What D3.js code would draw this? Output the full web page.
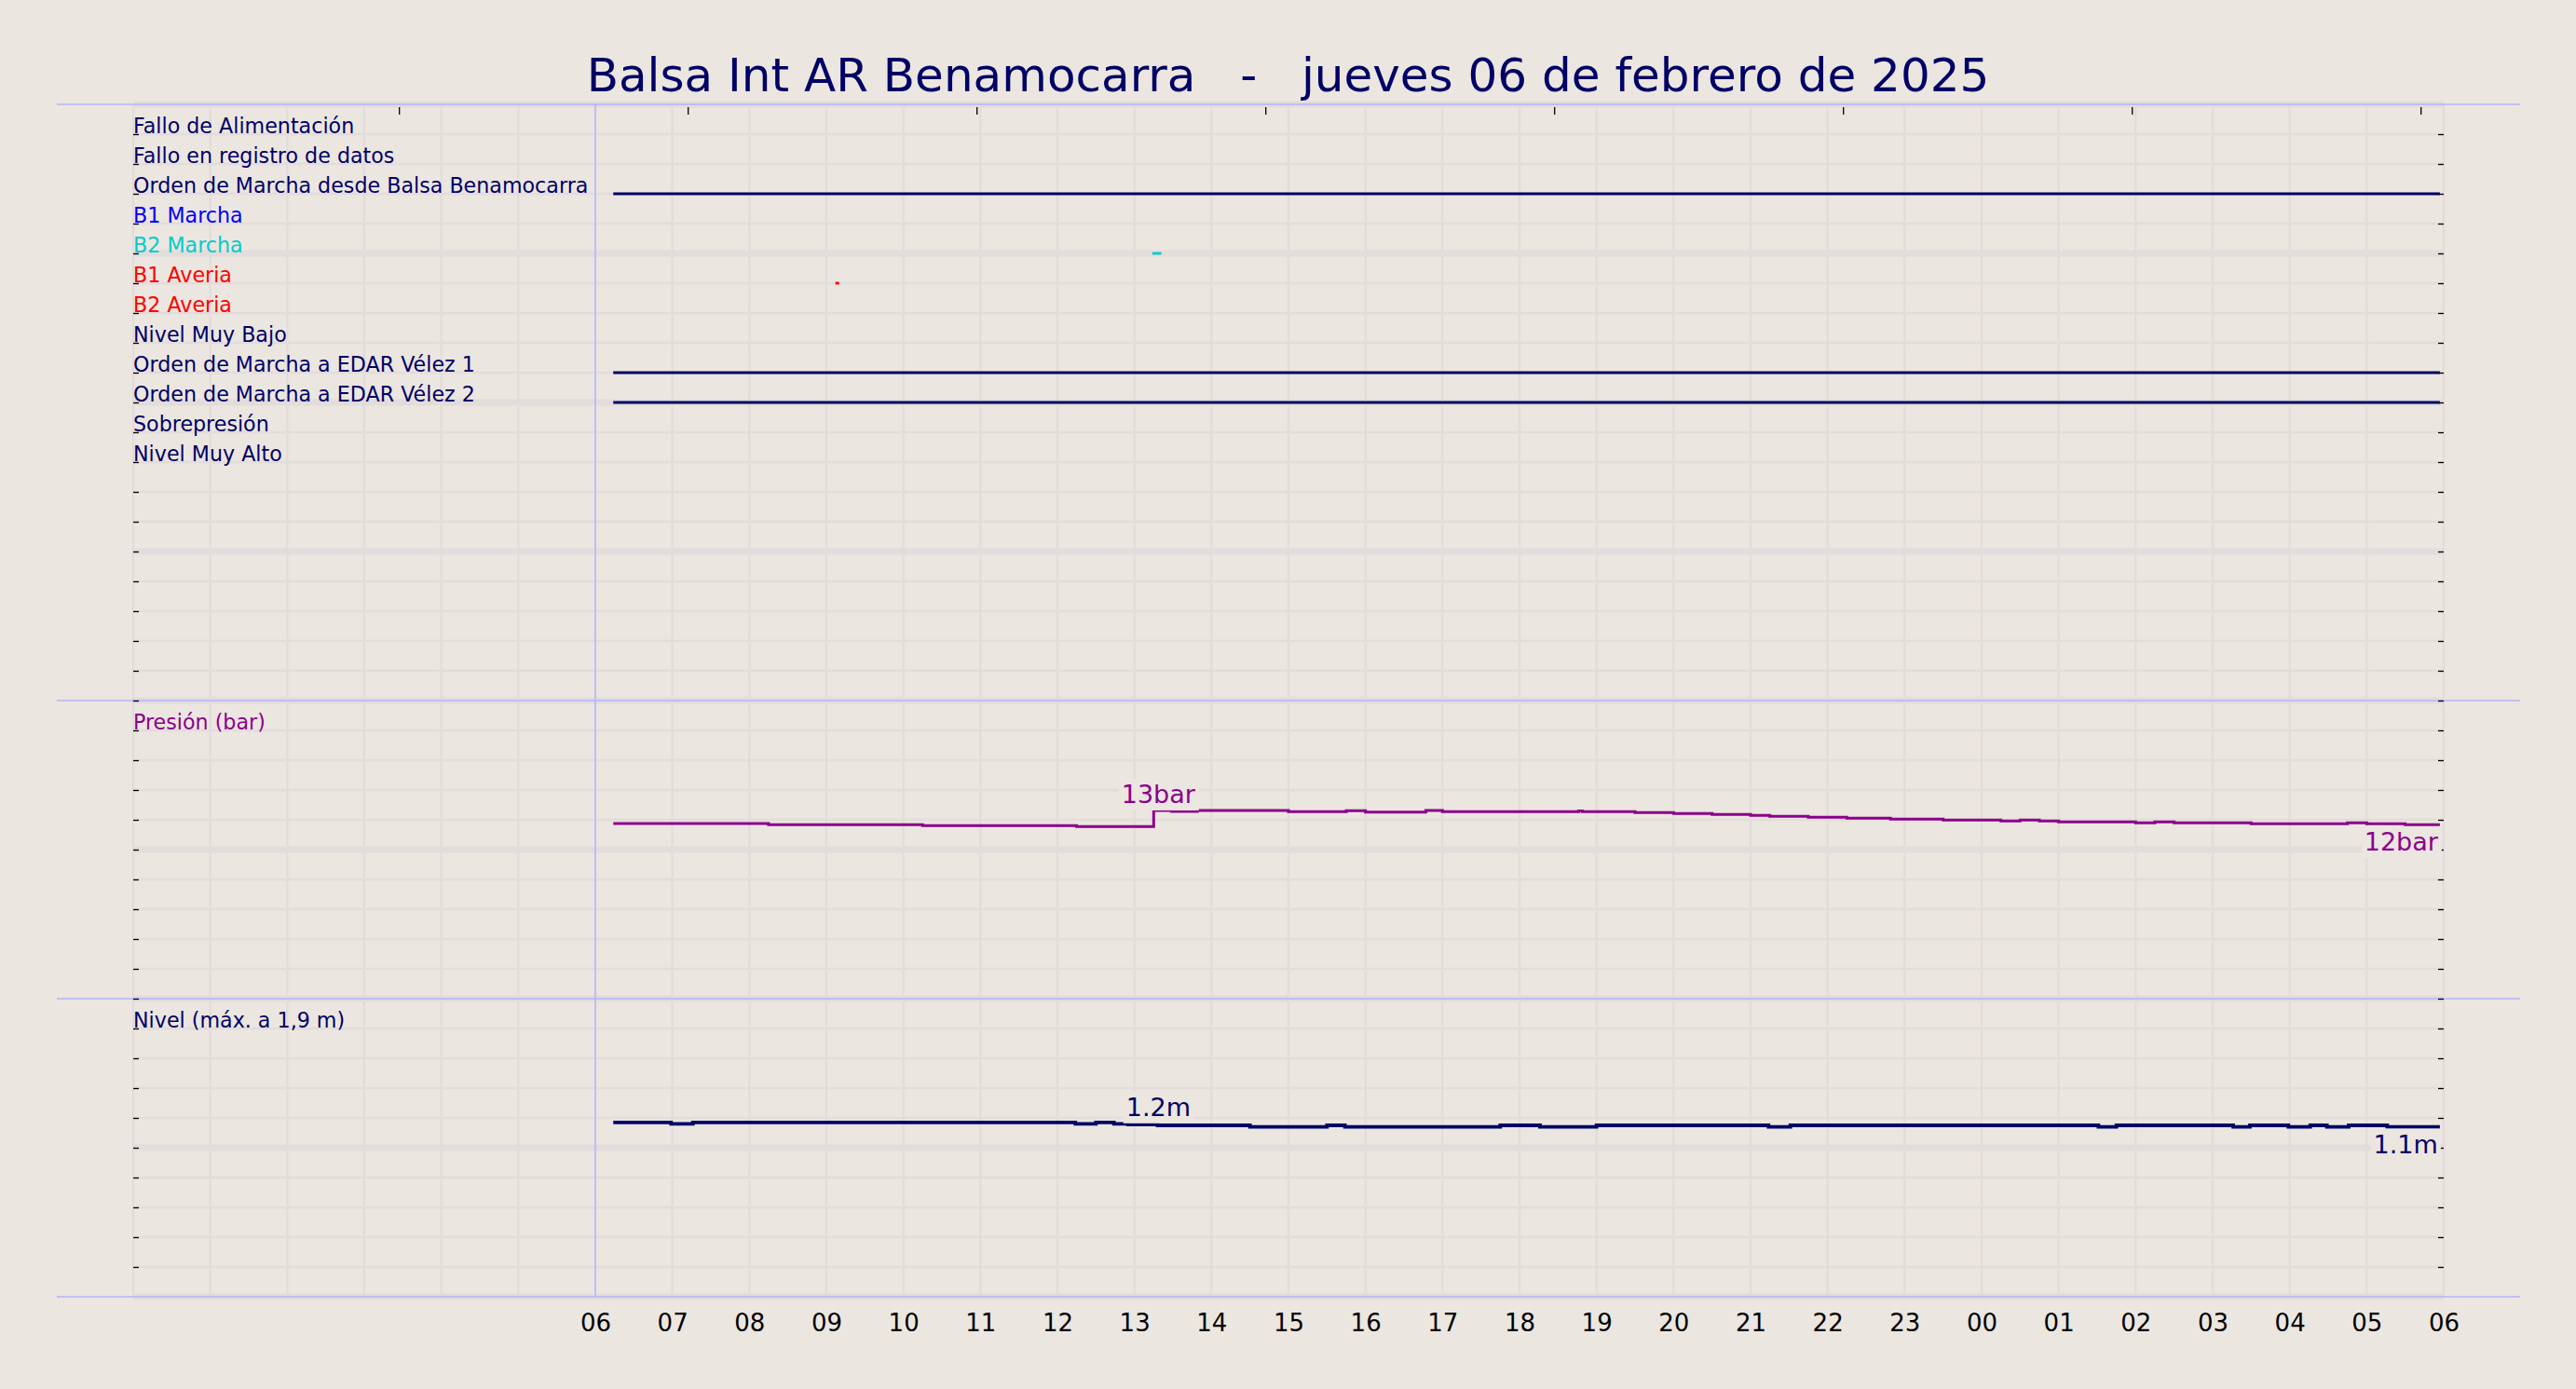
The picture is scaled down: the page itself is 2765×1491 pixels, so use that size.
<!DOCTYPE html>
<html>
<head>
<meta charset="utf-8">
<script src="https://cdn.jsdelivr.net/npm/d3@7"></script>
<style>
  body { margin: 0; background: #ebe6e0; }
  svg text { font-family: "DejaVu Sans", sans-serif; }
</style>
</head>
<body>
<div id="chart"></div>
<script>

// ---- data ----
const titleText = "Balsa Int AR Benamocarra   -   jueves 06 de febrero de 2025";

const signalNames = [
    "Fallo de Alimentación",
    "Fallo en registro de datos",
    "Orden de Marcha desde Balsa Benamocarra",
    "B1 Marcha",
    "B2 Marcha",
    "B1 Averia",
    "B2 Averia",
    "Nivel Muy Bajo",
    "Orden de Marcha a EDAR Vélez 1",
    "Orden de Marcha a EDAR Vélez 2",
    "Sobrepresión",
    "Nivel Muy Alto"
];

// periods where each signal is active (start, end)
const signalPeriods = [
    [],
    [],
    [["02-05 06:14", "02-06 05:57"]],
    [],
    [["02-05 13:14", "02-05 13:21"]],
    [["02-05 09:07", "02-05 09:10"]],
    [],
    [],
    [["02-05 06:14", "02-06 05:57"]],
    [["02-05 06:14", "02-06 05:57"]],
    [],
    []
];

const pressureLabel = "Presión (bar)";
const pressureTimes = [
    "02-05 06:14", "02-05 08:15", "02-05 10:15", "02-05 12:15", "02-05 13:15",
    "02-05 13:29", "02-05 13:49", "02-05 15:00", "02-05 15:45", "02-05 16:00",
    "02-05 16:47", "02-05 17:00", "02-05 18:46", "02-05 18:49", "02-05 19:30",
    "02-05 20:00", "02-05 20:30", "02-05 21:00", "02-05 21:15", "02-05 21:45",
    "02-05 22:15", "02-05 22:49", "02-05 23:30", "02-06 00:15", "02-06 00:30",
    "02-06 00:45", "02-06 01:00", "02-06 02:00", "02-06 02:15", "02-06 02:30",
    "02-06 03:30", "02-06 04:45", "02-06 05:00", "02-06 05:30", "02-06 05:57"
];
const pressureValues = [
    11.75, 11.67, 11.61, 11.54, 12.63,
    12.56, 12.62, 12.54, 12.61, 12.52,
    12.62, 12.54, 12.60, 12.54, 12.48,
    12.42, 12.36, 12.29, 12.23, 12.17,
    12.11, 12.04, 11.98, 11.92, 11.98,
    11.92, 11.86, 11.79, 11.86, 11.79,
    11.73, 11.79, 11.73, 11.67, 11.67
];

const levelLabel = "Nivel (máx. a 1,9 m)";
const levelTimes = [
    "02-05 06:14", "02-05 06:59", "02-05 07:16", "02-05 12:14", "02-05 12:30",
    "02-05 12:44", "02-05 12:55", "02-05 13:18", "02-05 14:30", "02-05 15:30",
    "02-05 15:44", "02-05 17:45", "02-05 18:16", "02-05 19:00", "02-05 21:14",
    "02-05 21:31", "02-06 01:31", "02-06 01:45", "02-06 03:16", "02-06 03:29",
    "02-06 03:59", "02-06 04:16", "02-06 04:29", "02-06 04:46", "02-06 05:16",
    "02-06 05:57"
];
const levelValues = [
    1.17, 1.16, 1.17, 1.16, 1.17,
    1.16, 1.155, 1.15, 1.14, 1.15,
    1.14, 1.15, 1.14, 1.15, 1.14,
    1.15, 1.14, 1.15, 1.14, 1.15,
    1.14, 1.15, 1.14, 1.15, 1.14,
    1.14
];

const timeStart = "02-05 00:00";
const timeFirstLabel = "02-05 06:00";
const timeEnd = "02-06 06:00";
const topTickValues = [0, 1, 2, 3, 4, 5, 6, 7];

// ---- styles ----
const bg = "#ebe6e0";
const navy = "#000066";
const magenta = "#8b008b";
const lavender = "#b3b3ff";
const gridColor = "#e2dcdb";
const signalColors = {
    "B1 Marcha": "#0000ff",
    "B2 Marcha": "#00cccc",
    "B1 Averia": "#ff0000",
    "B2 Averia": "#ff0000"
};

const W = 2765, H = 1491;
const margin = {top: 112, right: 142, bottom: 99, left: 143};
const width = W - margin.left - margin.right;
const height = H - margin.top - margin.bottom;

const parseTime = d3.timeParse("%m-%d %H:%M");

const svg = d3.select("#chart").append("svg")
    .attr("width", W)
    .attr("height", H);

svg.append("rect")
    .attr("width", W)
    .attr("height", H)
    .attr("fill", bg);

const g = svg.append("g")
    .attr("transform", "translate(" + margin.left + "," + margin.top + ")");

// ---- scales ----
const x = d3.scaleTime()
    .domain([parseTime(timeStart), parseTime(timeEnd)])
    .range([0, width]);

const nRows = 40;
const yRow = d3.scaleLinear()
    .domain([0, nRows])
    .range([0, height]);

const yP = d3.scaleLinear()
    .domain([0, 20])
    .range([yRow(30), yRow(20)]);

const yL = d3.scaleLinear()
    .domain([0, 2])
    .range([yRow(40), yRow(30)]);

const xTop = d3.scaleLinear()
    .domain([-0.92, 7.08])
    .range([0, width]);

// ---- grid ----
const hourTicks = x.ticks(d3.timeHour.every(1));

g.selectAll(".vgrid")
    .data(hourTicks)
    .enter().append("line")
    .attr("class", "vgrid")
    .attr("x1", d => x(d))
    .attr("x2", d => x(d))
    .attr("y1", 0)
    .attr("y2", height)
    .attr("stroke", gridColor)
    .attr("stroke-width", 2.3);

g.selectAll(".hgrid")
    .data(d3.range(0, nRows + 1))
    .enter().append("line")
    .attr("class", "hgrid")
    .attr("x1", 0)
    .attr("x2", width)
    .attr("y1", d => yRow(d))
    .attr("y2", d => yRow(d))
    .attr("stroke", gridColor)
    .attr("stroke-width", d => d % 5 === 0 ? 7 : 2.5);

// start of the day line
g.append("line")
    .attr("x1", x(parseTime(timeFirstLabel)))
    .attr("x2", x(parseTime(timeFirstLabel)))
    .attr("y1", 0)
    .attr("y2", height)
    .attr("stroke", lavender)
    .attr("stroke-width", 1.5);

// panel separators
g.selectAll(".sep")
    .data([0, 20, 30, 40])
    .enter().append("line")
    .attr("class", "sep")
    .attr("x1", -82)
    .attr("x2", width + 82)
    .attr("y1", d => yRow(d))
    .attr("y2", d => yRow(d))
    .attr("stroke", lavender)
    .attr("stroke-width", 1.5);

// ---- axes ----
const rowTicks = d3.range(1, nRows);

g.append("g")
    .attr("class", "axis y-left")
    .call(d3.axisLeft(yRow).tickValues(rowTicks).tickSize(-6).tickFormat(""));

g.append("g")
    .attr("class", "axis y-right")
    .attr("transform", "translate(" + width + ",0)")
    .call(d3.axisRight(yRow).tickValues(rowTicks).tickSize(-6).tickFormat(""));

g.append("g")
    .attr("class", "axis x-top")
    .attr("transform", "translate(0,3)")
    .call(d3.axisBottom(xTop).tickValues(topTickValues).tickSize(8).tickFormat(""));

g.append("g")
    .attr("class", "axis x-axis")
    .attr("transform", "translate(0," + height + ")")
    .call(d3.axisBottom(x)
        .tickValues(hourTicks.filter(d => d >= parseTime(timeFirstLabel)))
        .tickFormat(d3.timeFormat("%H"))
        .tickSize(0)
        .tickPadding(18.5));

g.selectAll(".axis .domain").remove();
g.selectAll(".axis line").attr("stroke", "#000").attr("stroke-width", 1.3);
g.selectAll(".x-axis text")
    .attr("fill", "#000")
    .style("font-size", "26px");

// ---- signals ----
signalNames.forEach(function (name, i) {
    const row = i + 1;
    const color = signalColors[name] || navy;

    g.selectAll(".sig" + i)
        .data(signalPeriods[i])
        .enter().append("line")
        .attr("class", "sig" + i)
        .attr("x1", d => x(parseTime(d[0])))
        .attr("x2", d => x(parseTime(d[1])))
        .attr("y1", yRow(row))
        .attr("y2", yRow(row))
        .attr("stroke", color)
        .attr("stroke-width", 2.8);

    g.append("text")
        .attr("x", 0)
        .attr("y", yRow(row) - 1)
        .attr("fill", color)
        .style("font-size", "22.2px")
        .text(name);
});

// ---- pressure ----
const pressure = pressureTimes.map((t, i) => ({t: parseTime(t), v: pressureValues[i]}));
const level = levelTimes.map((t, i) => ({t: parseTime(t), v: levelValues[i]}));

g.append("text")
    .attr("x", 0)
    .attr("y", yRow(21) - 1)
    .attr("fill", magenta)
    .style("font-size", "22.2px")
    .text(pressureLabel);

g.append("path")
    .datum(pressure)
    .attr("fill", "none")
    .attr("stroke", magenta)
    .attr("stroke-width", 3)
    .attr("d", d3.line().curve(d3.curveStepAfter).x(d => x(d.t)).y(d => yP(d.v)));

// ---- level ----
g.append("text")
    .attr("x", 0)
    .attr("y", yRow(31) - 1)
    .attr("fill", navy)
    .style("font-size", "22.2px")
    .text(levelLabel);

g.append("path")
    .datum(level)
    .attr("fill", "none")
    .attr("stroke", navy)
    .attr("stroke-width", 3.8)
    .attr("d", d3.line().curve(d3.curveStepAfter).x(d => x(d.t)).y(d => yL(d.v)));

// ---- value labels ----
function boxedLabel(str, px, py, anchor, color) {
    const lg = g.append("g");
    const t = lg.append("text")
        .attr("x", px)
        .attr("y", py)
        .attr("text-anchor", anchor)
        .attr("fill", color)
        .style("font-size", "27px")
        .text(str);
    const b = t.node().getBBox();
    lg.insert("rect", "text")
        .attr("x", b.x - 3)
        .attr("y", b.y - 1)
        .attr("width", b.width + 6)
        .attr("height", b.height + 3)
        .attr("fill", bg);
}

const pMax = pressure.reduce((a, b) => b.v > a.v ? b : a);
const pLast = pressure[pressure.length - 1];
const lMax = d3.max(level, d => d.v);
const lLast = level[level.length - 1];

boxedLabel(Math.round(pMax.v) + "bar", x(pMax.t) + 5, yP(pMax.v) - 8, "middle", magenta);
boxedLabel(lMax.toFixed(1) + "m", x(pMax.t) + 5, yL(lMax) - 7, "middle", navy);
boxedLabel(Math.round(pLast.v) + "bar", x(pLast.t) - 2, yP(pLast.v) + 28, "end", magenta);
boxedLabel(lLast.v.toFixed(1) + "m", x(lLast.t) - 2, yL(lLast.v) + 28, "end", navy);

// ---- title ----
svg.append("text")
    .attr("x", W / 2)
    .attr("y", 98)
    .attr("text-anchor", "middle")
    .attr("fill", navy)
    .style("font-size", "50px")
    .style("white-space", "pre")
    .text(titleText);

</script>
</body>
</html>
